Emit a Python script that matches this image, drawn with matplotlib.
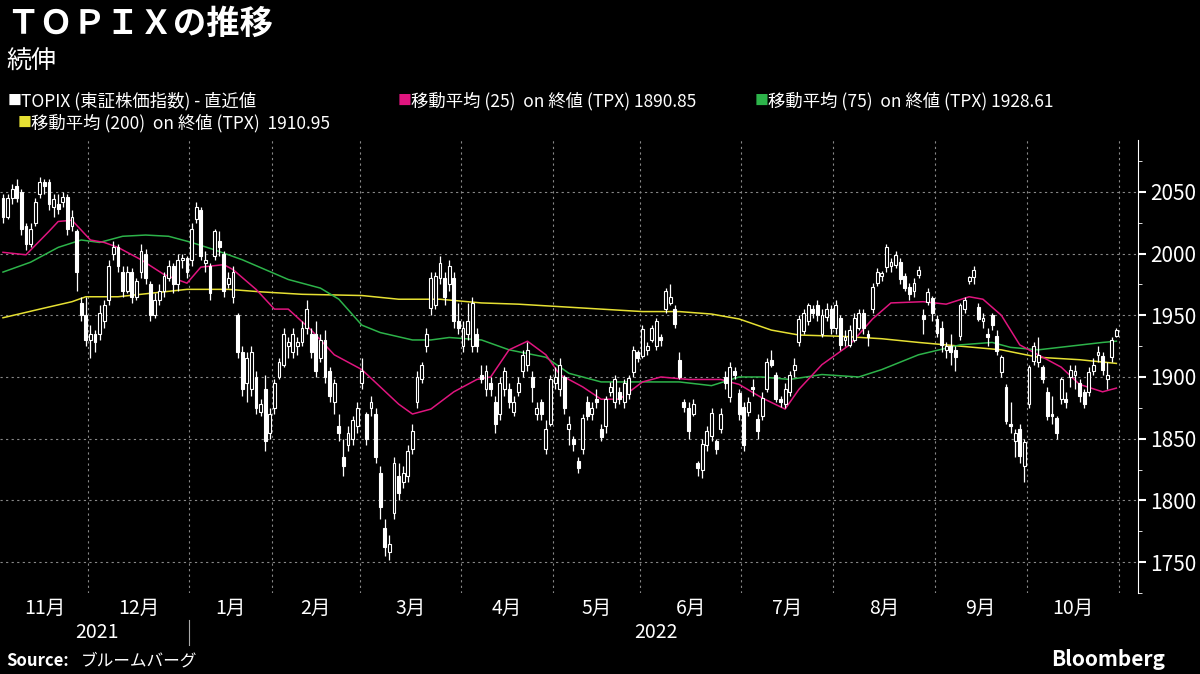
import matplotlib
matplotlib.use("Agg")
import matplotlib.pyplot as plt
from matplotlib.patches import Rectangle

plt.rcParams['font.family'] = ['Noto Sans CJK JP', 'DejaVu Sans']

month_labels = ['11月','12月','1月','2月','3月','4月','5月','6月','7月','8月','9月','10月']
month_counts = [19,22,18,19,22,20,19,22,20,22,20,20]
year_labels = ['2021','2022']

candles = [
# Nov
(2045,2048,2025,2030),(2030,2048,2028,2045),(2045,2056,2040,2052),(2055,2060,2042,2045),(2050,2052,2015,2020),
(2022,2025,2003,2008),(2008,2025,2005,2020),(2025,2045,2022,2042),(2048,2062,2045,2058),(2058,2060,2048,2055),
(2058,2060,2035,2040),(2038,2048,2030,2044),(2040,2048,2032,2036),(2042,2050,2038,2046),(2046,2048,2015,2020),
(2022,2035,2018,2030),(2018,2020,1970,1985),(1960,1965,1945,1950),(1950,1965,1925,1930),
# Dec
(1930,1942,1915,1935),(1935,1938,1920,1928),(1935,1958,1930,1952),(1945,1962,1940,1958),(1962,1995,1958,1990),
(2000,2010,1995,2005),(2005,2008,1985,1990),(1985,1990,1965,1970),(1970,1990,1968,1985),(1985,1988,1960,1965),
(1965,1980,1962,1978),(1985,2008,1980,2002),(2000,2004,1975,1980),(1975,1978,1945,1950),(1950,1968,1948,1962),
(1962,1975,1958,1970),(1970,1985,1965,1982),(1980,1995,1978,1990),(1990,1992,1968,1975),(1975,2000,1970,1995),
(1995,2000,1988,1996),(1996,1998,1980,1985),
# Jan
(1995,2025,1990,2020),(2028,2042,2025,2038),(2035,2038,1995,1998),(1992,2002,1985,1995),(1990,1992,1962,1968),
(1998,2020,1995,2018),(2010,2018,1998,2005),(2000,2002,1965,1970),(1975,1985,1972,1980),(1965,1990,1960,1985),
(1950,1952,1915,1920),(1920,1925,1885,1890),(1895,1920,1880,1915),(1890,1925,1885,1920),(1900,1905,1870,1875),
(1872,1882,1868,1878),(1890,1902,1840,1848),(1855,1875,1850,1870),
# Feb
(1875,1898,1870,1895),(1900,1915,1898,1912),(1910,1940,1908,1935),(1925,1932,1915,1928),(1920,1940,1915,1935),
(1925,1932,1918,1928),(1928,1945,1925,1940),(1940,1962,1935,1955),(1935,1940,1915,1920),(1935,1945,1900,1905),
(1915,1935,1912,1930),(1930,1938,1895,1900),(1905,1908,1880,1885),(1880,1898,1870,1895),(1860,1870,1848,1855),
(1835,1850,1820,1828),(1845,1860,1840,1855),(1850,1868,1845,1865),(1860,1880,1855,1875),
# Mar
(1895,1915,1890,1905),(1870,1872,1845,1850),(1875,1885,1868,1880),(1870,1875,1830,1835),(1822,1828,1785,1795),
(1778,1785,1755,1762),(1758,1772,1752,1765),(1790,1835,1785,1830),(1820,1830,1800,1806),(1815,1828,1810,1822),
(1820,1845,1815,1840),(1842,1862,1838,1856),(1880,1905,1875,1900),(1898,1912,1895,1910),(1925,1940,1920,1935),
(1956,1985,1950,1980),(1958,1985,1955,1982),(1980,1998,1975,1992),(1980,1985,1958,1965),(1975,1995,1970,1990),
(1980,1985,1940,1945),(1945,1960,1935,1940),
# Apr
(1925,1945,1920,1940),(1935,1960,1930,1945),(1925,1965,1920,1960),(1935,1940,1920,1925),(1902,1910,1895,1898),
(1890,1910,1885,1905),(1895,1900,1885,1890),(1880,1885,1855,1862),(1870,1900,1865,1895),(1890,1908,1885,1905),
(1890,1895,1875,1880),(1872,1885,1868,1880),(1888,1900,1885,1895),(1905,1922,1900,1918),(1910,1928,1905,1922),
(1900,1905,1880,1892),(1870,1880,1865,1875),(1880,1882,1865,1870),(1842,1865,1838,1858),(1862,1902,1860,1898),
# May
(1895,1908,1890,1900),(1890,1915,1885,1910),(1900,1902,1870,1875),(1858,1868,1845,1862),(1850,1852,1840,1846),
(1832,1835,1822,1826),(1842,1870,1838,1867),(1880,1885,1865,1868),(1870,1880,1865,1875),(1882,1890,1875,1880),
(1858,1862,1848,1851),(1860,1885,1855,1882),(1888,1896,1885,1892),(1880,1902,1875,1898),(1888,1892,1878,1882),
(1880,1898,1875,1895),(1886,1902,1882,1899),(1904,1925,1900,1922),(1920,1922,1912,1915),
# Jun
(1917,1942,1915,1939),(1922,1928,1918,1925),(1930,1942,1928,1940),(1925,1948,1922,1945),(1932,1935,1925,1930),
(1955,1972,1952,1970),(1960,1975,1958,1965),(1955,1958,1940,1943),(1914,1920,1898,1900),(1880,1882,1872,1876),
(1875,1880,1850,1856),(1870,1882,1868,1878),(1830,1832,1820,1826),(1825,1850,1818,1846),(1845,1860,1840,1856),
(1852,1875,1848,1871),(1848,1850,1838,1842),(1858,1875,1855,1870),(1900,1905,1890,1895),(1884,1912,1880,1908),
(1905,1908,1898,1902),(1887,1890,1865,1870),
# Jul
(1876,1880,1840,1845),(1872,1884,1868,1880),(1892,1898,1885,1890),(1866,1870,1850,1856),(1868,1888,1865,1883),
(1890,1915,1888,1912),(1914,1922,1908,1910),(1902,1904,1880,1882),(1882,1885,1876,1880),(1878,1895,1875,1890),
(1888,1905,1885,1902),(1906,1915,1900,1910),(1928,1950,1925,1947),(1937,1955,1935,1952),(1945,1960,1942,1958),
(1955,1958,1948,1952),(1958,1962,1945,1950),(1935,1955,1932,1950),(1949,1960,1945,1955),(1955,1958,1935,1940),
# Aug
(1940,1962,1935,1958),(1948,1950,1922,1926),(1930,1938,1925,1932),(1926,1942,1924,1938),(1930,1952,1928,1948),
(1940,1955,1938,1952),(1952,1955,1935,1940),(1935,1938,1925,1932),(1955,1976,1952,1973),(1976,1988,1974,1985),
(1982,1986,1978,1984),(1989,2008,1985,2005),(1990,1996,1985,1993),(1991,2002,1988,1999),(1993,1996,1975,1979),
(1982,1984,1970,1972),(1973,1976,1962,1967),(1970,1980,1965,1976),(1983,1990,1980,1987),(1950,1955,1935,1947),
(1961,1972,1958,1969),(1964,1966,1945,1952),
# Sep
(1947,1950,1932,1936),(1940,1945,1920,1926),(1922,1928,1915,1925),(1925,1935,1910,1920),(1922,1925,1905,1916),
(1933,1960,1930,1958),(1955,1965,1952,1962),(1978,1982,1975,1981),(1981,1990,1975,1987),(1957,1960,1945,1947),
(1945,1952,1940,1948),(1935,1940,1925,1932),(1950,1952,1938,1942),(1933,1938,1918,1921),(1904,1918,1900,1916),
(1892,1894,1862,1864),(1862,1880,1855,1860),(1848,1858,1835,1855),(1858,1862,1830,1836),(1828,1850,1815,1847),
# Oct
(1878,1910,1875,1908),(1913,1928,1910,1925),(1912,1932,1908,1918),(1908,1910,1895,1898),(1888,1892,1865,1868),
(1870,1885,1862,1868),(1867,1868,1850,1855),(1882,1900,1878,1898),(1882,1888,1875,1880),(1900,1910,1892,1906),
(1902,1910,1890,1905),(1895,1898,1880,1885),(1888,1890,1875,1878),(1888,1908,1885,1904),(1905,1915,1902,1910),
(1918,1925,1912,1920),(1917,1920,1902,1906),(1898,1912,1890,1902),(1916,1932,1912,1930),(1933,1940,1932,1938),
]

ma25_idx = [0,5,10,12,15,19,22,25,30,35,40,43,48,50,55,59,62,67,72,78,82,86,89,93,98,103,106,110,114,118,
            121,126,130,134,139,143,149,156,160,165,170,173,178,184,189,193,200,205,210,213,217,221,225,230,234,239,242]
ma25_val = [2001,1999,2018,2026,2027,2011,2009,2005,1995,1983,1976,1989,1991,1987,1971,1955,1955,1938,1918,1906,
            1892,1878,1870,1874,1888,1898,1900,1922,1929,1918,1902,1892,1882,1882,1896,1900,1898,1898,1894,1883,
            1874,1890,1910,1926,1947,1960,1961,1959,1965,1963,1950,1926,1918,1908,1894,1888,1891]
ma75_idx = [0,6,12,17,21,26,31,36,41,46,52,57,62,69,73,78,82,89,93,97,104,110,118,123,130,138,147,154,160,165,
            171,178,186,191,199,208,215,219,225,232,239,242]
ma75_val = [1985,1993,2005,2011,2009,2014,2015,2014,2009,2003,1995,1987,1979,1972,1963,1942,1936,1930,1930,1932,
            1930,1922,1916,1903,1896,1896,1896,1893,1900,1900,1898,1902,1900,1906,1918,1926,1928,1924,1922,1925,1928,1929]
ma200_idx = [0,8,15,18,25,40,49,56,65,78,86,95,104,112,121,130,139,147,154,160,167,173,182,191,199,208,217,225,234,242]
ma200_val = [1948,1955,1961,1965,1965,1971,1971,1969,1967,1966,1963,1963,1960,1959,1957,1955,1953,1953,1951,1947,
             1938,1934,1933,1931,1928,1925,1922,1916,1914,1911]

W, H = 1200, 674
fig = plt.figure(figsize=(W/100, H/100), dpi=100, facecolor='black')
ax = fig.add_axes([0, 1-593/H, 1138/W, (593-140)/H], facecolor='black')

w = 0.62
for i, (o, h, l, c) in enumerate(candles):
    ax.vlines(i, l, h, color='white', lw=0.9, zorder=3)
    lo, hi = min(o, c), max(o, c)
    face = 'black' if c >= o else 'white'
    ax.add_patch(Rectangle((i - w/2, lo), w, max(hi - lo, 0.8), facecolor=face, edgecolor='white', lw=0.8, zorder=4))

ax.plot(ma200_idx, ma200_val, color='#e6e033', lw=1.1, zorder=2)
ax.plot(ma75_idx, ma75_val, color='#2db34a', lw=1.1, zorder=2)
ax.plot(ma25_idx, ma25_val, color='#e0157f', lw=1.1, zorder=2)

n = len(candles)
ax.set_xlim(-0.65, 246.7)
ax.set_ylim(1726, 2092)

starts = []
s = 0
for cnt in month_counts:
    starts.append(s)
    s += cnt
for st in starts[1:] + [n]:
    ax.axvline(st - 0.5, color='#888888', lw=0.8, ls=(0, (2, 3)), zorder=1)
for v in range(1750, 2051, 50):
    ax.axhline(v, color='#888888', lw=0.8, ls=(0, (2, 3)), zorder=1)

ax.yaxis.tick_right()
ax.set_yticks(range(1750, 2051, 50))
ax.set_yticks(range(1725, 2076, 25), minor=True)
ax.tick_params(axis='y', colors='white', labelsize=15, length=6, width=1.5, direction='out', pad=3)
ax.tick_params(axis='y', which='minor', colors='white', length=3, direction='out')
ax.set_xticks([])
for sp in ['top', 'left', 'bottom']:
    ax.spines[sp].set_visible(False)
ax.spines['right'].set_color('white')

bounds = starts + [n]
for k, lab in enumerate(month_labels):
    cx = (bounds[k] + bounds[k+1] - 1) / 2
    ax.text(cx, -0.035, lab, transform=ax.get_xaxis_transform(), color='white', fontsize=14, ha='center', va='center')
ax.text((0 + starts[2]) / 2, -0.088, year_labels[0], transform=ax.get_xaxis_transform(), color='white', fontsize=14, ha='center', va='center')
ax.text((starts[2] + n) / 2, -0.088, year_labels[1], transform=ax.get_xaxis_transform(), color='white', fontsize=14, ha='center', va='center')
ax.plot([starts[2] - 0.5]*2, [-0.06, -0.115], transform=ax.get_xaxis_transform(), color='#aaaaaa', lw=0.8, clip_on=False)

fig.text(0.005, 1-24/H, 'ＴＯＰＩＸの推移', color='white', fontsize=24, fontweight='bold', va='center')
fig.text(0.005, 1-62/H, '続伸', color='white', fontsize=18, va='center')

def leg(x, y, col, label):
    fig.text(x/W, 1-y/H, '■', color=col, fontsize=10, va='center')
    fig.text((x+13)/W, 1-y/H, label, color='white', fontsize=12.5, va='center')
leg(8, 101, 'white', 'TOPIX (東証株価指数) - 直近値')
leg(398, 101, '#e0157f', '移動平均 (25)  on 終値 (TPX) 1890.85')
leg(755, 101, '#2db34a', '移動平均 (75)  on 終値 (TPX) 1928.61')
leg(18, 123, '#e6e033', '移動平均 (200)  on 終値 (TPX)  1910.95')

fig.text(0.005, 1-661/H, 'Source:', color='white', fontsize=12, fontweight='bold', va='center')
fig.text(0.067, 1-661/H, 'ブルームバーグ', color='white', fontsize=12, va='center')
fig.text(1165/W, 1-659/H, 'Bloomberg', color='white', fontsize=15, fontweight='bold', va='center', ha='right')

fig.savefig('out.png', dpi=100, facecolor='black')
